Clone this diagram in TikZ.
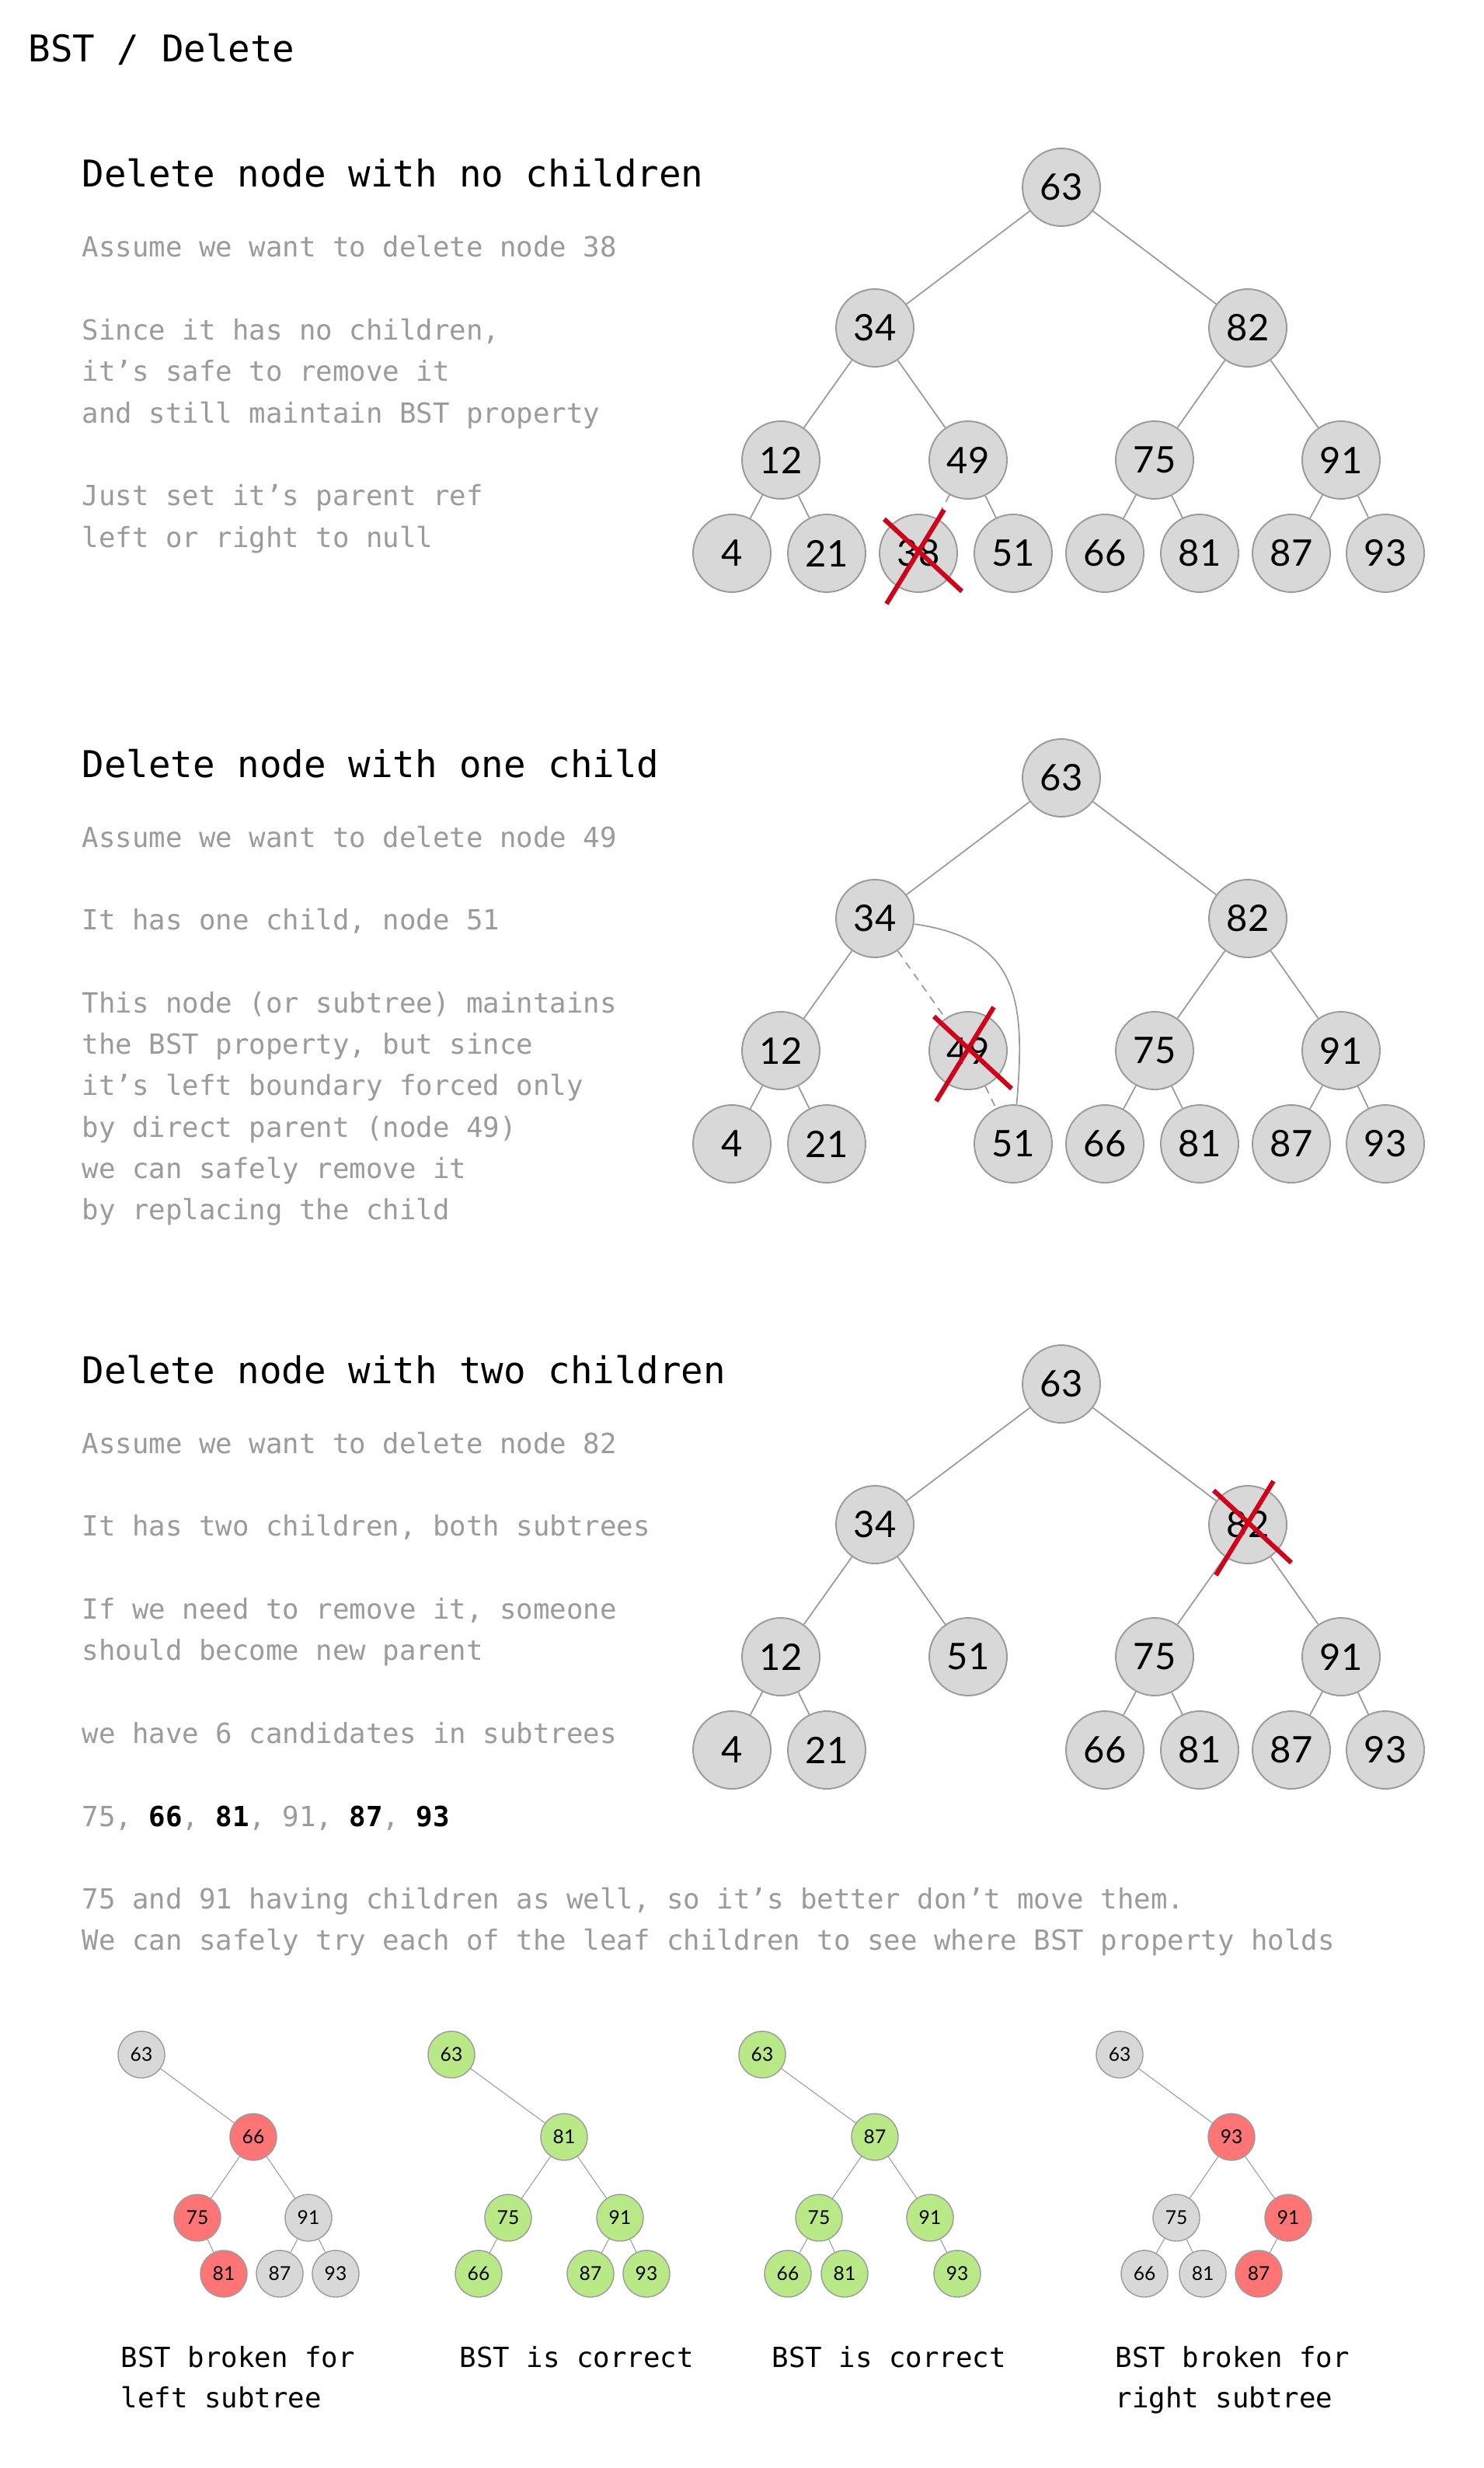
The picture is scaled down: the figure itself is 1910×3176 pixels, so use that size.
\documentclass[tikz,border=0pt]{standalone}
\usepackage{fontspec}
\setmonofont{DejaVu Sans Mono}
\newfontfamily\numfont{Lato}
\usepackage{xcolor}
\usepackage{tikz}
\usetikzlibrary{positioning}

\definecolor{nodefill}{HTML}{D8D8D8}
\definecolor{nodeline}{HTML}{9B9B9B}
\definecolor{txtgray}{HTML}{9B9B9B}
\definecolor{crossred}{HTML}{D0021B}
\definecolor{badred}{HTML}{FF7474}
\definecolor{goodgreen}{HTML}{B8E986}

% red X over a removed node
\newcommand{\strikenode}[1]{%
  \draw[cross] ([shift={(-44,-44)}]#1.center) -- ([shift={(56,49)}]#1.center);
  \draw[cross] ([shift={(33,-56)}]#1.center) -- ([shift={(-41,65)}]#1.center);}

\begin{document}
\begin{tikzpicture}[
    x=0.1mm, y=-0.1mm,
    bnode/.style = {circle, draw=nodeline, fill=nodefill, line width=0.55pt,
                    minimum size=10mm, inner sep=0pt,
                    font=\numfont\fontsize{13.4}{14}\selectfont},
    snode/.style = {circle, draw=nodeline, fill=nodefill, line width=0.4pt,
                    minimum size=6mm, inner sep=0pt,
                    font=\numfont\fontsize{7}{8}\selectfont},
    bad/.style   = {fill=badred},
    good/.style  = {fill=goodgreen},
    edge/.style  = {draw=nodeline, line width=0.5pt},
    sedge/.style = {draw=nodeline, line width=0.3pt},
    gone/.style  = {edge, dash pattern=on 1mm off 0.8mm},
    cross/.style = {draw=crossred, line width=1.7pt},
    head/.style  = {anchor=base west, inner sep=0pt,
                    font=\ttfamily\fontsize{13.5}{16}\selectfont},
    txt/.style   = {anchor=base west, inner sep=0pt, text=txtgray,
                    font=\ttfamily\fontsize{10.16}{15.17}\selectfont},
    capt/.style  = {txt, text=black}
]
    \useasboundingbox (0,0) rectangle (1910,3176);

    \node[head] (title) at (36,80) {BST / Delete};

    %-- 1: no children ------------------------------------------------------
    \node[head] (h1) at (105,241) {Delete node with no children};
    \foreach \k/\t in {
        0/{Assume we want to delete node 38},
        2/{Since it has no children,},
        3/{it’s safe to remove it},
        4/{and still maintain BST property},
        6/{Just set it’s parent ref},
        7/{left or right to null}}{
        \node[txt] (s1-\k) at (105,{331+53.3*\k}) {\t};
    }

    \node[bnode] (a63) at (1366,241) {63};
    \node[bnode] (a34) at (1126,422) {34};
    \node[bnode] (a82) at (1606,422) {82};
    \node[bnode] (a12) at (1005,592) {12};
    \node[bnode] (a49) at (1246,592) {49};
    \node[bnode] (a75) at (1486,592) {75};
    \node[bnode] (a91) at (1726,592) {91};
    \foreach \n/\x in {4/942, 21/1064, 38/1182, 51/1304,
                       66/1422, 81/1544, 87/1662, 93/1783}
        \node[bnode] (a\n) at (\x,712) {\n};
    \foreach \a/\b in {63/34, 63/82, 34/12, 34/49, 12/4, 12/21, 49/51,
                       82/75, 82/91, 75/66, 75/81, 91/87, 91/93}
        \draw[edge] (a\a) -- (a\b);
    \draw[gone] (a49) -- (a38);
    \strikenode{a38}

    %-- 2: one child --------------------------------------------------------
    \node[head] (h2) at (105,1000) {Delete node with one child};
    \foreach \k/\t in {
        0/{Assume we want to delete node 49},
        2/{It has one child, node 51},
        4/{This node (or subtree) maintains},
        5/{the BST property, but since},
        6/{it’s left boundary forced only},
        7/{by direct parent (node 49)},
        8/{we can safely remove it},
        9/{by replacing the child}}{
        \node[txt] (s2-\k) at (105,{1090+53.3*\k}) {\t};
    }

    \begin{scope}[shift={(0,760)}]
    \node[bnode] (b63) at (1366,241) {63};
    \node[bnode] (b34) at (1126,422) {34};
    \node[bnode] (b82) at (1606,422) {82};
    \node[bnode] (b12) at (1005,592) {12};
    \node[bnode] (b49) at (1246,592) {49};
    \node[bnode] (b75) at (1486,592) {75};
    \node[bnode] (b91) at (1726,592) {91};
    \foreach \n/\x in {4/942, 21/1064, 51/1304,
                       66/1422, 81/1544, 87/1662, 93/1783}
        \node[bnode] (b\n) at (\x,712) {\n};
    \foreach \a/\b in {63/34, 63/82, 34/12, 12/4, 12/21,
                       82/75, 82/91, 75/66, 75/81, 91/87, 91/93}
        \draw[edge] (b\a) -- (b\b);
    \draw[gone] (b34) -- (b49);
    \draw[gone] (b49) -- (b51);
    \draw[edge] (b34) to[out=-8, in=85, looseness=1.3] (b51);   % 51 moves up to 34
    \strikenode{b49}
    \end{scope}

    %-- 3: two children -----------------------------------------------------
    \node[head] (h3) at (105,1780) {Delete node with two children};
    \foreach \k/\t in {
        0/{Assume we want to delete node 82},
        2/{It has two children, both subtrees},
        4/{If we need to remove it, someone},
        5/{should become new parent},
        7/{we have 6 candidates in subtrees},
        11/{75 and 91 having children as well, so it’s better don’t move them.},
        12/{We can safely try each of the leaf children to see where BST property holds}}{
        \node[txt] (s3-\k) at (105,{1870+53.3*\k}) {\t};
    }
    \node[txt] (s3-9) at (105,2350) {75, \textcolor{black}{\bfseries 66},
        \textcolor{black}{\bfseries 81}, 91, \textcolor{black}{\bfseries 87},
        \textcolor{black}{\bfseries 93}};

    \begin{scope}[shift={(0,1540)}]
    \node[bnode] (c63) at (1366,241) {63};
    \node[bnode] (c34) at (1126,422) {34};
    \node[bnode] (c82) at (1606,422) {82};
    \node[bnode] (c12) at (1005,592) {12};
    \node[bnode] (c51) at (1246,592) {51};
    \node[bnode] (c75) at (1486,592) {75};
    \node[bnode] (c91) at (1726,592) {91};
    \foreach \n/\x in {4/942, 21/1064, 66/1422, 81/1544, 87/1662, 93/1783}
        \node[bnode] (c\n) at (\x,712) {\n};
    \foreach \a/\b in {63/34, 63/82, 34/12, 34/51, 12/4, 12/21,
                       82/75, 82/91, 75/66, 75/81, 91/87, 91/93}
        \draw[edge] (c\a) -- (c\b);
    \strikenode{c82}
    \end{scope}

    %-- candidates ----------------------------------------------------------
    % 66 moved up
    \node[snode]      (p63) at (182,2644) {63};
    \node[snode, bad] (p66) at (326,2750) {66};
    \node[snode, bad] (p75) at (254,2854) {75};
    \node[snode]      (p91) at (397,2854) {91};
    \node[snode, bad] (p81) at (288,2926) {81};
    \node[snode]      (p87) at (360,2926) {87};
    \node[snode]      (p93) at (432,2926) {93};
    \foreach \a/\b in {63/66, 66/75, 66/91, 75/81, 91/87, 91/93}
        \draw[sedge] (p\a) -- (p\b);
    \node[capt] (lp1) at (155,3046) {BST broken for};
    \node[capt] (lp2) at (155,3098) {left subtree};

    % 81 moved up
    \node[snode, good] (q63) at (581,2644) {63};
    \node[snode, good] (q81) at (726,2750) {81};
    \node[snode, good] (q75) at (654,2854) {75};
    \node[snode, good] (q91) at (798,2854) {91};
    \node[snode, good] (q66) at (616,2926) {66};
    \node[snode, good] (q87) at (760,2926) {87};
    \node[snode, good] (q93) at (832,2926) {93};
    \foreach \a/\b in {63/81, 81/75, 81/91, 75/66, 91/87, 91/93}
        \draw[sedge] (q\a) -- (q\b);
    \node[capt] (lq) at (591,3046) {BST is correct};

    % 87 moved up
    \node[snode, good] (r63) at (981,2644) {63};
    \node[snode, good] (r87) at (1126,2750) {87};
    \node[snode, good] (r75) at (1054,2854) {75};
    \node[snode, good] (r91) at (1197,2854) {91};
    \node[snode, good] (r66) at (1014,2926) {66};
    \node[snode, good] (r81) at (1087,2926) {81};
    \node[snode, good] (r93) at (1232,2926) {93};
    \foreach \a/\b in {63/87, 87/75, 87/91, 75/66, 75/81, 91/93}
        \draw[sedge] (r\a) -- (r\b);
    \node[capt] (lr) at (993,3046) {BST is correct};

    % 93 moved up
    \node[snode]      (t63) at (1441,2644) {63};
    \node[snode, bad] (t93) at (1585,2750) {93};
    \node[snode]      (t75) at (1514,2854) {75};
    \node[snode, bad] (t91) at (1658,2854) {91};
    \node[snode]      (t66) at (1473,2926) {66};
    \node[snode]      (t81) at (1548,2926) {81};
    \node[snode, bad] (t87) at (1620,2926) {87};
    \foreach \a/\b in {63/93, 93/75, 93/91, 75/66, 75/81, 91/87}
        \draw[sedge] (t\a) -- (t\b);
    \node[capt] (lt1) at (1435,3046) {BST broken for};
    \node[capt] (lt2) at (1435,3098) {right subtree};

\end{tikzpicture}
\end{document}
